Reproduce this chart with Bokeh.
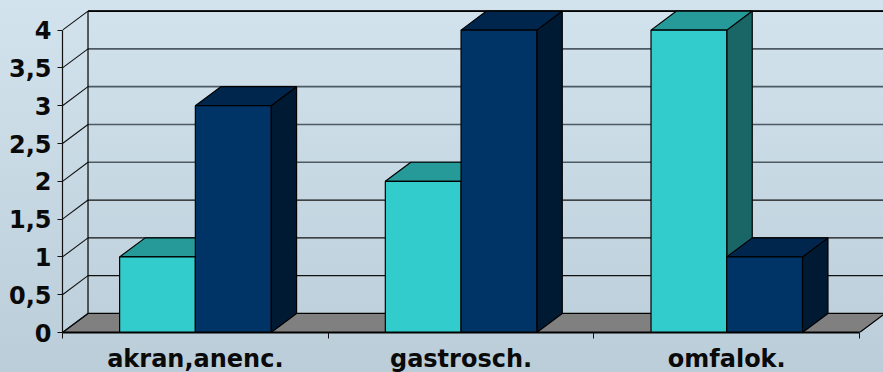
from bokeh.embed import file_html
from bokeh.models import FixedTicker, LinearAxis, Range1d
from bokeh.plotting import figure
from bokeh.resources import INLINE

# Chart values
categories = ["akran,anenc.", "gastrosch.", "omfalok."]
series_a = [1, 2, 4]
series_b = [3, 4, 1]
y_ticks = [0, 0.5, 1, 1.5, 2, 2.5, 3, 3.5, 4]
y_tick_labels = ["0", "0,5", "1", "1,5", "2", "2,5", "3", "3,5", "4"]

# Oblique projection: depth offset of the 3D box in data units
DX = 0.096
DY = 0.252
BAR_W = 0.285
X_END = 3.09
Y_END = 4.392
FONT = "DejaVu Sans"

p = figure(
    width=883, height=372, frame_width=821, frame_height=332,
    output_backend="svg", toolbar_location=None,
    x_range=Range1d(0, X_END), y_range=Range1d(0, Y_END),
    x_axis_type=None, y_axis_type=None,
    min_border_left=62, min_border_right=0, min_border_top=0, min_border_bottom=40,
    background_fill_color=None, border_fill_color=None, outline_line_color=None,
)
p.grid.visible = False
p.styles = {"background": "linear-gradient(180deg, #d2e3ee 0%, #bbcdd8 100%)"}


def quad_path(x0, x1, y0, y1):
    return [x0, x1, x1, x0], [y0, y0, y1, y1]


# Floor of the box
p.patch([0, 3, 3 + DX, DX], [0, 0, DY, DY], fill_color="#808080",
        line_color="#000000", line_width=1.2)

# Back wall gridlines and left wall diagonals
levels = [t for t in y_ticks if t > 0]
grid_colors = ["#111111" if t < 2 else "#4d5a63" for t in levels]
grid_widths = [1.2 if t < 2 else 1.6 for t in levels]
p.segment([DX] * len(levels), [t + DY for t in levels], [X_END] * len(levels),
          [t + DY for t in levels], line_color=grid_colors, line_width=grid_widths)
p.segment([DX], [4 + DY], [X_END], [4 + DY], line_color="#000000", line_width=1.6)
p.segment([0] * len(y_ticks), y_ticks, [DX] * len(y_ticks), [t + DY for t in y_ticks],
          line_color="#111111", line_width=1.1)
p.segment([DX], [DY], [DX], [4 + DY], line_color="#000000", line_width=1.2)


def draw_bar(x0, value, front, top, side):
    x1 = x0 + BAR_W
    p.patch([x1, x1 + DX, x1 + DX, x1], [0, DY, value + DY, value],
            fill_color=side, line_color="#000000", line_width=1.2)
    p.patch([x0, x1, x1 + DX, x0 + DX], [value, value, value + DY, value + DY],
            fill_color=top, line_color="#000000", line_width=1.2)
    xs, ys = quad_path(x0, x1, 0, value)
    p.patch(xs, ys, fill_color=front, line_color="#000000", line_width=1.2)


# Bars go back to front within each category
for i, (a, b) in enumerate(zip(series_a, series_b)):
    centre = i + 0.5
    draw_bar(centre - BAR_W, a, "#33cccc", "#269999", "#1a6666")
    draw_bar(centre, b, "#003366", "#00264d", "#001a33")

# Value axis on the front left edge
y_axis = LinearAxis(
    ticker=FixedTicker(ticks=y_ticks), bounds=(0, 4),
    major_label_overrides={t: s for t, s in zip(y_ticks, y_tick_labels)},
    major_tick_in=0, major_tick_out=5, minor_tick_out=0, minor_tick_in=0,
    axis_line_color="#111111", axis_line_width=1.2,
    major_tick_line_color="#111111", major_tick_line_width=1.2,
    major_label_text_font=FONT, major_label_text_font_style="bold",
    major_label_text_font_size="24px", major_label_text_color="#0a0a0a",
    major_label_standoff=6,
)
p.add_layout(y_axis, "left")

# Category axis: labels at centres, ticks at category boundaries
x_axis = LinearAxis(
    ticker=FixedTicker(ticks=[i + 0.5 for i in range(len(categories))],
                       minor_ticks=list(range(len(categories) + 1))),
    bounds=(0, 3),
    major_label_overrides={i + 0.5: c for i, c in enumerate(categories)},
    major_tick_in=0, major_tick_out=0, minor_tick_in=0, minor_tick_out=6,
    axis_line_color="#000000", axis_line_width=2,
    minor_tick_line_color="#111111", minor_tick_line_width=1,
    major_label_text_font=FONT, major_label_text_font_style="bold",
    major_label_text_font_size="24px", major_label_text_color="#0a0a0a",
    major_label_standoff=6,
)
p.add_layout(x_axis, "below")

with open("out.html", "w") as f:
    f.write(file_html(p, INLINE))
